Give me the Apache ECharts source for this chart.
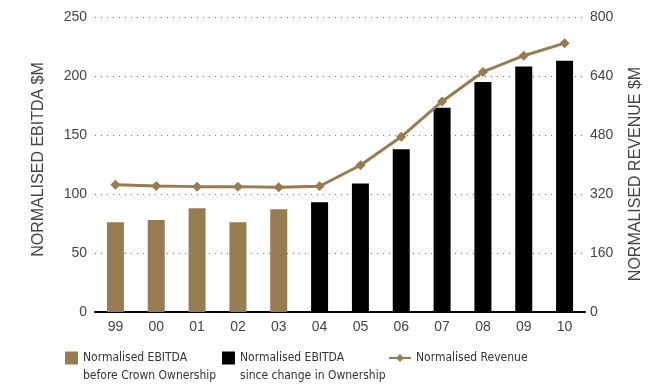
<!DOCTYPE html>
<html><head><meta charset="utf-8">
<script src="https://cdn.jsdelivr.net/npm/echarts@6/dist/echarts.min.js"></script>
<style>html,body{margin:0;padding:0;background:#fff}#c{width:668px;height:387px}</style>
</head><body><div id="c"></div>
<script>
const years = ['99','00','01','02','03','04','05','06','07','08','09','10'];
const ebitdaBefore = [76, 78, 88, 76, 87, null, null, null, null, null, null, null];
const ebitdaSince  = [null, null, null, null, null, 93, 109, 138, 173, 195, 208, 213];
const revenue = [345, 342, 340, 340, 338, 341, 398, 475, 571, 651, 695, 729];
const leftTicks = [0, 250, 50];
const rightTicks = [0, 800, 160];

const gold = '#977c52';
const txt = '#444';
const font = '"Liberation Sans", Arial, sans-serif';
const narrow = '"Liberation Sans Narrow", "DejaVu Sans Condensed", "Roboto Condensed", sans-serif';
const legText = {fontFamily: narrow, fontSize: 12, color: '#333', lineHeight: 18};
const topAlign = name => ' \n' + name;

const chart = echarts.init(document.getElementById('c'));
chart.setOption({
  animation: false,
  grid: {left: 95, right: 83, top: 17, bottom: 75},
  legend: [
    {left: 60, top: 326, itemWidth: 13, itemHeight: 13, textStyle: legText, formatter: topAlign,
     data: [{name: 'Normalised EBITDA\nbefore Crown Ownership', icon: 'rect'}]},
    {left: 217, top: 326, itemWidth: 13, itemHeight: 13, textStyle: legText, formatter: topAlign,
     data: [{name: 'Normalised EBITDA\nsince change in Ownership', icon: 'rect'}]},
    {left: 383, top: 344, itemWidth: 22, itemHeight: 10, textStyle: legText,
     data: [{name: 'Normalised Revenue'}]}
  ],
  xAxis: {
    type: 'category', data: years,
    axisLine: {lineStyle: {color: '#000', width: 2}},
    axisTick: {show: false},
    axisLabel: {color: txt, fontSize: 14, fontFamily: font, margin: 8}
  },
  yAxis: [
    {type: 'value', min: leftTicks[0], max: leftTicks[1], interval: leftTicks[2],
     name: 'NORMALISED EBITDA $M', nameLocation: 'middle', nameGap: 48, nameRotate: 90,
     nameTextStyle: {color: txt, fontSize: 16, fontFamily: font, padding: [0, 0, 0, 10]},
     axisLine: {show: false}, axisTick: {show: false},
     axisLabel: {color: txt, fontSize: 14, fontFamily: font, margin: 8},
     splitLine: {lineStyle: {type: [1, 5], color: '#777', width: 1}}},
    {type: 'value', min: rightTicks[0], max: rightTicks[1], interval: rightTicks[2],
     name: 'NORMALISED REVENUE $M', nameLocation: 'middle', nameGap: 43, nameRotate: 90,
     nameTextStyle: {color: txt, fontSize: 16, fontFamily: font, padding: [0, 19, 0, 0]},
     axisLine: {show: false}, axisTick: {show: false},
     axisLabel: {color: txt, fontSize: 14, fontFamily: font, margin: 5},
     splitLine: {show: false}}
  ],
  series: [
    {name: 'Normalised EBITDA\nbefore Crown Ownership', type: 'bar', data: ebitdaBefore,
     barWidth: 17, barGap: '-100%', itemStyle: {color: gold}},
    {name: 'Normalised EBITDA\nsince change in Ownership', type: 'bar', data: ebitdaSince,
     barWidth: 17, barGap: '-100%', itemStyle: {color: '#000'}},
    {name: 'Normalised Revenue', type: 'line', yAxisIndex: 1, data: revenue,
     symbol: 'diamond', symbolSize: 10, lineStyle: {color: gold, width: 3},
     itemStyle: {color: gold}}
  ]
});
</script></body></html>
